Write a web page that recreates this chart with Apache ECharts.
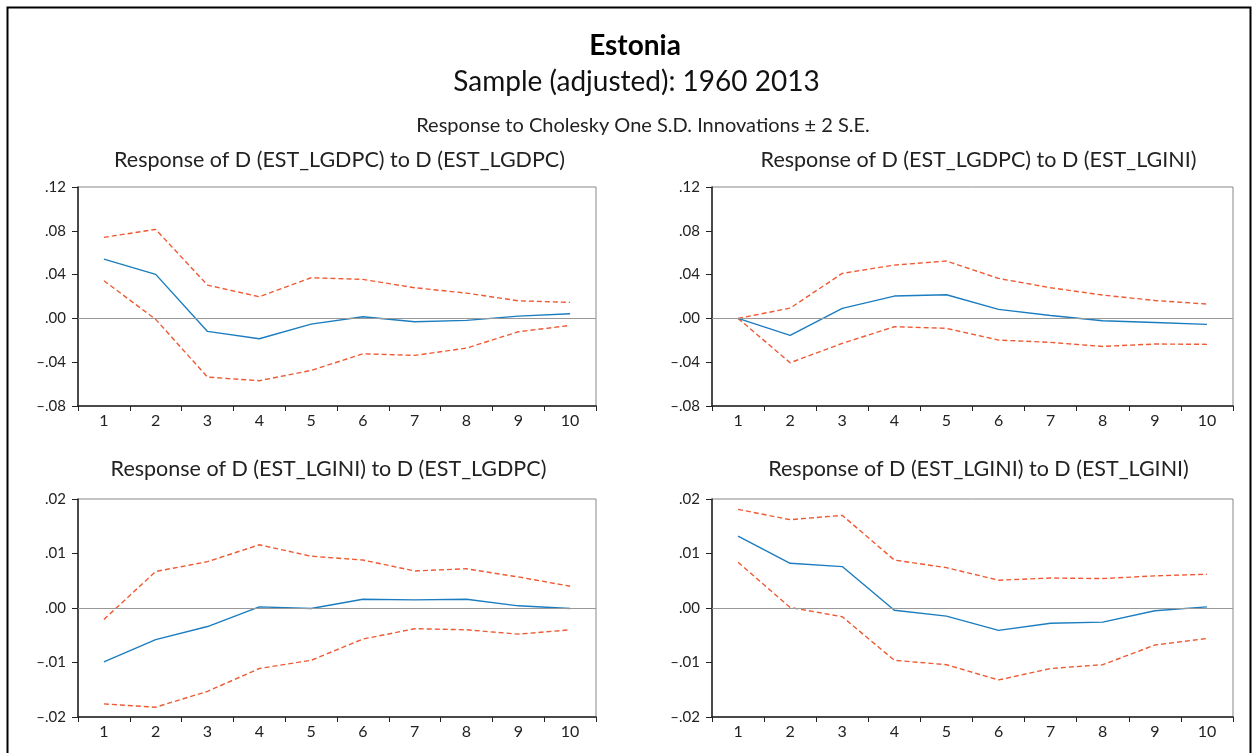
<!DOCTYPE html>
<html><head><meta charset="utf-8">
<script src="https://cdn.jsdelivr.net/npm/echarts@6/dist/echarts.min.js"></script>
<style>html,body{margin:0;padding:0;background:#fff}#c{width:1255px;height:753px}</style>
</head><body><div id="c"></div>
<script>
const categories = ['1','2','3','4','5','6','7','8','9','10'];

// Response of D(EST_LGDPC) to D(EST_LGDPC)
const gdpGdpResp  = [0.0542, 0.0402, -0.0119, -0.0186, -0.0052, 0.0015, -0.0030, -0.0018, 0.0021, 0.0043];
const gdpGdpUpper = [0.0740, 0.0813, 0.0304, 0.0198, 0.0371, 0.0356, 0.0280, 0.0231, 0.0161, 0.0146];
const gdpGdpLower = [0.0344, -0.0009, -0.0536, -0.0569, -0.0475, -0.0323, -0.0338, -0.0271, -0.0122, -0.0064];

// Response of D(EST_LGDPC) to D(EST_LGINI)
const gdpGiniResp  = [0.0000, -0.0155, 0.0091, 0.0204, 0.0216, 0.0082, 0.0027, -0.0021, -0.0037, -0.0055];
const gdpGiniUpper = [0.0000, 0.0094, 0.0411, 0.0487, 0.0524, 0.0365, 0.0280, 0.0213, 0.0164, 0.0131];
const gdpGiniLower = [0.0000, -0.0405, -0.0228, -0.0076, -0.0091, -0.0198, -0.0219, -0.0256, -0.0234, -0.0237];

// Response of D(EST_LGINI) to D(EST_LGDPC)
const giniGdpResp  = [-0.0099, -0.0058, -0.0034, 0.0002, -0.0001, 0.0016, 0.0015, 0.0016, 0.0004, -0.0001];
const giniGdpUpper = [-0.0021, 0.0067, 0.0085, 0.0116, 0.0095, 0.0088, 0.0068, 0.0072, 0.0057, 0.0040];
const giniGdpLower = [-0.0176, -0.0182, -0.0153, -0.0111, -0.0096, -0.0057, -0.0038, -0.0040, -0.0048, -0.0040];

// Response of D(EST_LGINI) to D(EST_LGINI)
const giniGiniResp  = [0.0132, 0.0082, 0.0076, -0.0004, -0.0015, -0.0041, -0.0028, -0.0026, -0.0005, 0.0002];
const giniGiniUpper = [0.0181, 0.0162, 0.0170, 0.0088, 0.0074, 0.0051, 0.0055, 0.0054, 0.0059, 0.0062];
const giniGiniLower = [0.0084, 0.0001, -0.0016, -0.0096, -0.0104, -0.0132, -0.0111, -0.0104, -0.0068, -0.0056];

const panelTitles = [
  'Response of D (EST_LGDPC) to D (EST_LGDPC)',
  'Response of D (EST_LGDPC) to D (EST_LGINI)',
  'Response of D (EST_LGINI) to D (EST_LGDPC)',
  'Response of D (EST_LGINI) to D (EST_LGINI)'
];
const panelData = [
  [gdpGdpResp, gdpGdpUpper, gdpGdpLower],
  [gdpGiniResp, gdpGiniUpper, gdpGiniLower],
  [giniGdpResp, giniGdpUpper, giniGdpLower],
  [giniGiniResp, giniGiniUpper, giniGiniLower]
];
const yRanges = [[-0.08, 0.12, 0.04], [-0.08, 0.12, 0.04], [-0.02, 0.02, 0.01], [-0.02, 0.02, 0.01]];

const FONT = 'Lato';
const BLUE = '#1b7dbf';
const RED = '#ee5a33';
const grids = [
  {left: 78, top: 187, width: 518, height: 219},
  {left: 712, top: 187, width: 521, height: 219},
  {left: 78, top: 499, width: 518, height: 218},
  {left: 712, top: 499, width: 521, height: 218}
];
const titleTops = [144, 144, 453, 453];
const titleCenters = [334.5, 973.5, 323.5, 973.5];

function fmt(v) {
  let s = Math.abs(v).toFixed(2).replace(/^0\./, '.');
  return (v < -1e-9 ? '\u2013' : '') + s;
}

const option = {
  animation: false,
  backgroundColor: '#fff',
  title: [
    {text: 'Estonia', left: 630, textAlign: 'center', top: 27, textStyle: {fontFamily: FONT, fontSize: 28, fontWeight: 'bold', color: '#000'}},
    {text: 'Sample (adjusted): 1960 2013', left: 631.5, textAlign: 'center', top: 63, textStyle: {fontFamily: FONT, fontSize: 28, fontWeight: 'normal', color: '#111'}},
    {text: 'Response to Cholesky One S.D. Innovations \u00b1 2 S.E.', left: 638, textAlign: 'center', top: 111, textStyle: {fontFamily: FONT, fontSize: 20, fontWeight: 'normal', color: '#222'}},
  ].concat(panelTitles.map((t, i) => ({
    text: t,
    left: titleCenters[i],
    textAlign: 'center',
    top: titleTops[i],
    textStyle: {fontFamily: FONT, fontSize: 21.5, fontWeight: 'normal', color: '#222'}
  }))),
  graphic: [{type: 'rect', shape: {x: 7.5, y: 7.5, width: 1243, height: 760}, style: {fill: 'none', stroke: '#000', lineWidth: 2}}],
  grid: grids.map(g => Object.assign({show: true, borderColor: '#888', borderWidth: 1, backgroundColor: 'transparent'}, g)),
  xAxis: grids.map((g, i) => ({
    type: 'category', gridIndex: i, data: categories, boundaryGap: true,
    axisLine: {onZero: false, lineStyle: {color: '#222', width: 1.5}},
    axisTick: {show: true, length: 5, alignWithLabel: false, lineStyle: {color: '#222'}},
    axisLabel: {fontFamily: FONT, fontSize: 16, color: '#222', margin: 7},
    splitLine: {show: false}
  })),
  yAxis: grids.map((g, i) => ({
    type: 'value', gridIndex: i, min: yRanges[i][0], max: yRanges[i][1], interval: yRanges[i][2],
    axisLine: {show: true, onZero: false, lineStyle: {color: '#222', width: 1.5}},
    axisTick: {show: true, length: 6, lineStyle: {color: '#222'}},
    axisLabel: {fontFamily: FONT, fontSize: 15, color: '#222', margin: 12, formatter: fmt},
    splitLine: {show: false}
  })),
  series: []
};

panelData.forEach((d, i) => {
  option.series.push({
    type: 'line', xAxisIndex: i, yAxisIndex: i, data: d[0], symbol: 'none',
    lineStyle: {color: BLUE, width: 1.4}, z: 4,
    markLine: {silent: true, symbol: 'none', label: {show: false},
      lineStyle: {color: '#999', type: 'solid', width: 1.2}, data: [{yAxis: 0}]}
  });
  option.series.push({type: 'line', xAxisIndex: i, yAxisIndex: i, data: d[1], symbol: 'none',
    lineStyle: {color: RED, width: 1.4, type: [5, 3]}, z: 3});
  option.series.push({type: 'line', xAxisIndex: i, yAxisIndex: i, data: d[2], symbol: 'none',
    lineStyle: {color: RED, width: 1.4, type: [5, 3]}, z: 3});
});

const chart = echarts.init(document.getElementById('c'), null, {renderer: 'canvas'});
chart.setOption(option);
</script></body></html>
